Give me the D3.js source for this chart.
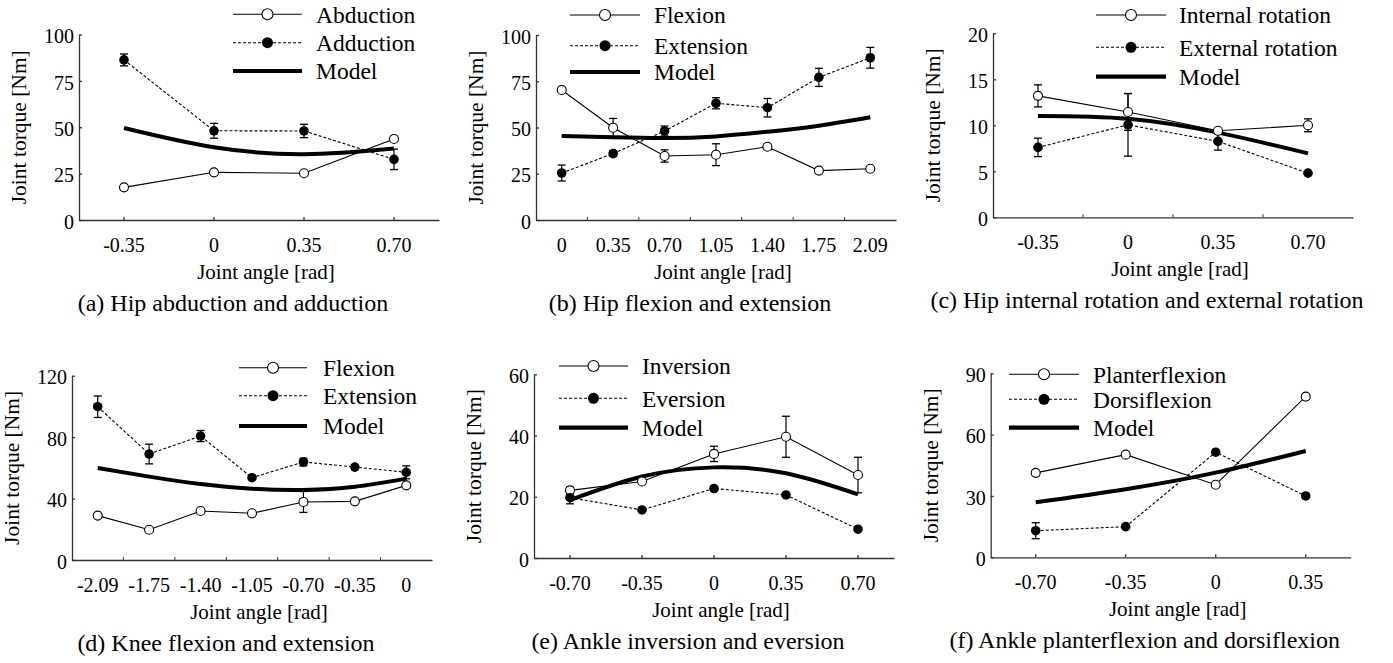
<!DOCTYPE html>
<html>
<head>
<meta charset="utf-8">
<script src="https://cdn.jsdelivr.net/npm/d3@7"></script>
<style>
  body { margin: 0; background: #fff; }
  svg { display: block; }
  svg text { font-family: "Liberation Serif", "Times New Roman", Times, serif; }
</style>
</head>
<body>
<div id="chart"></div>
<script>
// ---- data ----
// (a) hip abduction / adduction
var hipAbdAngles = ["-0.35", "0", "0.35", "0.70"];
var hipAbduction = [17.6, 25.7, 25.2, 43.7];
var hipAbductionErr = [0, 0, 0, 0];
var hipAdduction = [86.3, 48.1, 48.0, 32.7];
var hipAdductionErr = [3.2, 4.0, 3.6, 5.5];
var hipAbdModel = [49.6, 39.2, 35.5, 38.6];

// (b) hip flexion / extension
var hipFlexAngles = ["0", "0.35", "0.70", "1.05", "1.40", "1.75", "2.09"];
var hipFlexion = [70.3, 49.9, 34.6, 35.3, 39.6, 26.7, 27.7];
var hipFlexionErr = [0, 5.0, 3.3, 5.9, 1.5, 0, 0];
var hipExtension = [25.4, 35.9, 48.1, 63.1, 60.7, 77.1, 87.7];
var hipExtensionErr = [4.3, 1.5, 2.7, 3.0, 5.0, 4.9, 5.6];
var hipFlexModel = [45.4, 44.7, 44.3, 45.2, 47.7, 51.0, 55.5];

// (c) hip internal / external rotation
var hipRotAngles = ["-0.35", "0", "0.35", "0.70"];
var hipInternal = [13.2, 11.45, 9.4, 10.0];
var hipInternalErr = [1.2, 2.0, 0, 0.7];
var hipExternal = [7.6, 10.05, 8.25, 4.8];
var hipExternalErr = [1.0, 3.4, 0.95, 0];
var hipRotModel = [11.0, 10.7, 9.2, 6.95];

// (d) knee flexion / extension
var kneeAngles = ["-2.09", "-1.75", "-1.40", "-1.05", "-0.70", "-0.35", "0"];
var kneeFlexion = [28.9, 19.7, 31.9, 30.4, 37.8, 38.2, 48.6];
var kneeFlexionErr = [0, 0, 0, 0, 6.8, 0, 0];
var kneeExtension = [99.8, 69.0, 80.7, 53.6, 63.8, 60.5, 57.1];
var kneeExtensionErr = [7.0, 6.4, 3.6, 0, 2.5, 0, 4.2];
var kneeModel = [59.9, 54.3, 49.5, 46.4, 45.6, 47.7, 53.0];

// (e) ankle inversion / eversion
var ankleInvAngles = ["-0.70", "-0.35", "0", "0.35", "0.70"];
var ankleInversion = [22.1, 25.0, 34.0, 39.6, 27.1];
var ankleInversionErr = [1.0, 0, 2.5, 6.7, 5.8];
var ankleEversion = [19.7, 15.7, 22.7, 20.6, 9.4];
var ankleEversionErr = [2.0, 0, 0, 0, 0];
var ankleInvModel = [18.9, 26.6, 29.6, 27.7, 20.8];

// (f) ankle planterflexion / dorsiflexion
var anklePfAngles = ["-0.70", "-0.35", "0", "0.35"];
var anklePlanter = [41.3, 50.2, 35.5, 78.6];
var anklePlanterErr = [0, 0, 0, 0];
var ankleDorsi = [13.0, 15.0, 51.4, 30.0];
var ankleDorsiErr = [3.9, 0, 0, 0];
var anklePfModel = [26.9, 33.3, 41.4, 52.0];

// ---- panel layout ----
var panels = [
  { angles: hipAbdAngles, open: hipAbduction, openErr: hipAbductionErr, filled: hipAdduction, filledErr: hipAdductionErr,
    model: hipAbdModel, names: ["Abduction", "Adduction", "Model"], yMax: 100, yTicks: [0, 25, 50, 75, 100],
    caption: "(a) Hip abduction and adduction", left: 79, top: 34.5, bottom: 220, tickMode: "on",
    legend: { x0: 233, x1: 302, rows: [14.3, 42.7, 71], tx: 316 } },
  { angles: hipFlexAngles, open: hipFlexion, openErr: hipFlexionErr, filled: hipExtension, filledErr: hipExtensionErr,
    model: hipFlexModel, names: ["Flexion", "Extension", "Model"], yMax: 100, yTicks: [0, 25, 50, 75, 100],
    caption: "(b) Hip flexion and extension", left: 536, top: 35, bottom: 220, tickMode: "between",
    legend: { x0: 570, x1: 640, rows: [15, 45.7, 72], tx: 654 } },
  { angles: hipRotAngles, open: hipInternal, openErr: hipInternalErr, filled: hipExternal, filledErr: hipExternalErr,
    model: hipRotModel, names: ["Internal rotation", "External rotation", "Model"], yMax: 20, yTicks: [0, 5, 10, 15, 20],
    caption: "(c) Hip internal rotation and external rotation", left: 993, top: 33.3, bottom: 217.3, tickMode: "between",
    legend: { x0: 1096, x1: 1166, rows: [15, 47.3, 76.7], tx: 1179 } },
  { angles: kneeAngles, open: kneeFlexion, openErr: kneeFlexionErr, filled: kneeExtension, filledErr: kneeExtensionErr,
    model: kneeModel, names: ["Flexion", "Extension", "Model"], yMax: 120, yTicks: [0, 40, 80, 120],
    caption: "(d) Knee flexion and extension", left: 72, top: 375.7, bottom: 560, tickMode: "between",
    legend: { x0: 239, x1: 307, rows: [367.7, 395.7, 426], tx: 323 } },
  { angles: ankleInvAngles, open: ankleInversion, openErr: ankleInversionErr, filled: ankleEversion, filledErr: ankleEversionErr,
    model: ankleInvModel, names: ["Inversion", "Eversion", "Model"], yMax: 60, yTicks: [0, 20, 40, 60],
    caption: "(e) Ankle inversion and eversion", left: 534, top: 374.3, bottom: 558, tickMode: "on",
    legend: { x0: 559, x1: 628, rows: [366, 398.3, 427.7], tx: 642 } },
  { angles: anklePfAngles, open: anklePlanter, openErr: anklePlanterErr, filled: ankleDorsi, filledErr: ankleDorsiErr,
    model: anklePfModel, names: ["Planterflexion", "Dorsiflexion", "Model"], yMax: 90, yTicks: [0, 30, 60, 90],
    caption: "(f) Ankle planterflexion and dorsiflexion", left: 990.7, top: 373.3, bottom: 557.3, tickMode: "on",
    legend: { x0: 1009, x1: 1079, rows: [374.3, 399.3, 427.7], tx: 1093 } }
];

var plotWidth = 360;
var axisColor = "#333";
var serif = "Liberation Serif";

var svg = d3.select("#chart")
  .append("svg")
    .attr("width", 1393)
    .attr("height", 663)
    .attr("font-family", serif);

panels.forEach(function(p) {
  var x = d3.scaleBand().domain(p.angles).range([p.left, p.left + plotWidth]);
  var cx = function(i) { return x(p.angles[i]) + x.bandwidth() / 2; };
  var y = d3.scaleLinear().domain([0, p.yMax]).range([p.bottom, p.top]);

  var g = svg.append("g").attr("font-family", serif);

  // y axis, short inward ticks
  var yAxis = g.append("g")
    .attr("transform", "translate(" + p.left + ",0)")
    .call(d3.axisLeft(y).tickValues(p.yTicks).tickFormat(d3.format("d")).tickSize(-3).tickSizeOuter(0).tickPadding(5))
    .attr("font-family", serif)
    .attr("font-size", 20);
  yAxis.selectAll("text").attr("fill", "#000").attr("dy", "0.41em");

  // x axis
  var xAxis = g.append("g")
    .attr("transform", "translate(0," + p.bottom + ")")
    .call(d3.axisBottom(x).tickSizeInner(p.tickMode == "on" ? -3 : 0).tickSizeOuter(0).tickPadding(17.5))
    .attr("font-family", serif)
    .attr("font-size", 20);
  xAxis.selectAll("text").attr("fill", "#000");
  if (p.tickMode == "between") {
    xAxis.selectAll("tick-between")
      .data(p.angles.slice(1))
      .enter()
      .append("line")
        .attr("x1", function(d) { return x(d); })
        .attr("x2", function(d) { return x(d); })
        .attr("y1", 0)
        .attr("y2", -3)
        .attr("stroke", axisColor);
  }
  g.selectAll(".domain, .tick line").attr("stroke", axisColor).attr("stroke-width", 1.3);

  // axis titles
  g.append("text")
    .attr("x", p.left + 187)
    .attr("y", p.bottom + 59)
    .attr("text-anchor", "middle")
    .attr("font-size", 21)
    .text("Joint angle [rad]");

  g.append("text")
    .attr("transform", "translate(" + (p.left - 53) + "," + ((p.top + p.bottom) / 2) + ")rotate(-90)")
    .attr("text-anchor", "middle")
    .attr("font-size", 21.5)
    .text("Joint torque [Nm]");

  // caption
  g.append("text")
    .attr("x", p.left + 154)
    .attr("y", p.bottom + 90.5)
    .attr("text-anchor", "middle")
    .attr("font-size", 24)
    .text(p.caption);

  var line = d3.line()
    .x(function(d, i) { return cx(i); })
    .y(function(d) { return y(d); });

  // series lines
  g.append("path")
    .attr("d", line(p.open))
    .attr("fill", "none")
    .attr("stroke", "#000")
    .attr("stroke-width", 1.1);
  g.append("path")
    .attr("d", line(p.filled))
    .attr("fill", "none")
    .attr("stroke", "#000")
    .attr("stroke-width", 1.1)
    .attr("stroke-dasharray", "3,2");

  // model curve
  g.append("path")
    .attr("d", line.curve(d3.curveNatural)(p.model))
    .attr("fill", "none")
    .attr("stroke", "#000")
    .attr("stroke-width", 4);

  // error bars
  function errorBars(vals, errs) {
    vals.forEach(function(v, i) {
      if (!errs[i]) return;
      var xx = cx(i);
      g.append("line").attr("x1", xx).attr("x2", xx).attr("y1", y(v - errs[i])).attr("y2", y(v + errs[i]))
        .attr("stroke", "#000").attr("stroke-width", 1.2);
      [v - errs[i], v + errs[i]].forEach(function(e) {
        g.append("line").attr("x1", xx - 4).attr("x2", xx + 4).attr("y1", y(e)).attr("y2", y(e))
          .attr("stroke", "#000").attr("stroke-width", 1.3);
      });
    });
  }
  errorBars(p.open, p.openErr);
  errorBars(p.filled, p.filledErr);

  // markers
  g.selectAll("open-pt")
    .data(p.open)
    .enter()
    .append("circle")
      .attr("cx", function(d, i) { return cx(i); })
      .attr("cy", function(d) { return y(d); })
      .attr("r", 4.5)
      .attr("fill", "#fff")
      .attr("stroke", "#000")
      .attr("stroke-width", 1.1);
  g.selectAll("filled-pt")
    .data(p.filled)
    .enter()
    .append("circle")
      .attr("cx", function(d, i) { return cx(i); })
      .attr("cy", function(d) { return y(d); })
      .attr("r", 4.8)
      .attr("fill", "#000");

  // legend
  var L = p.legend;
  var xm = (L.x0 + L.x1) / 2;
  g.append("line").attr("x1", L.x0).attr("x2", L.x1).attr("y1", L.rows[0]).attr("y2", L.rows[0])
    .attr("stroke", "#000").attr("stroke-width", 1.1);
  g.append("circle").attr("cx", xm).attr("cy", L.rows[0]).attr("r", 5.5)
    .attr("fill", "#fff").attr("stroke", "#000").attr("stroke-width", 1.1);
  g.append("line").attr("x1", L.x0).attr("x2", L.x1).attr("y1", L.rows[1]).attr("y2", L.rows[1])
    .attr("stroke", "#000").attr("stroke-width", 1.1).attr("stroke-dasharray", "3,2");
  g.append("circle").attr("cx", xm).attr("cy", L.rows[1]).attr("r", 5.5).attr("fill", "#000");
  g.append("line").attr("x1", L.x0).attr("x2", L.x1).attr("y1", L.rows[2]).attr("y2", L.rows[2])
    .attr("stroke", "#000").attr("stroke-width", 4.2);

  p.names.forEach(function(n, i) {
    g.append("text")
      .attr("x", L.tx)
      .attr("y", L.rows[i])
      .attr("dy", "0.36em")
      .attr("font-size", 23.5)
      .text(n);
  });
});
</script>
</body>
</html>
